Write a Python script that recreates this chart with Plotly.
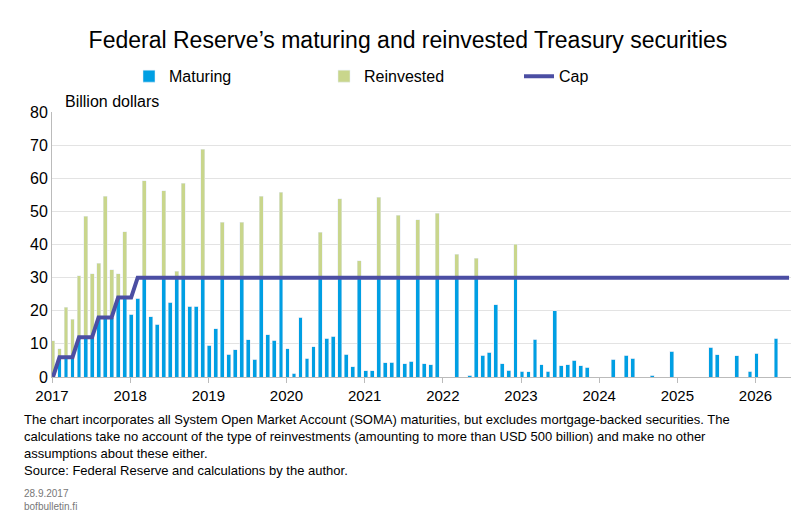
import plotly.graph_objects as go

# total monthly SOMA Treasury maturities, billion USD, from Jan 2017
total = [10.9, 8.5, 21, 17.4, 30.5, 48.6, 31.1, 34.4, 54.6, 32.4, 31.1, 43.9,
         18.9, 23.8, 59.2, 18.2, 15.9, 56.2, 22.5, 31.9, 58.5, 21.3, 21.3, 68.8,
         9.6, 14.5, 46.7, 6.9, 8.3, 46.7, 11.2, 5.4, 54.6, 12.7, 11.1, 55.7,
         8.6, 1.1, 18, 5.6, 9.1, 43.7, 11.7, 12.3, 53.8, 6.8, 3.1, 35.1,
         1.9, 1.9, 54.2, 4.3, 4.5, 48.8, 4.0, 4.7, 47.5, 4.0, 3.7, 49.4,
         0, 0, 37, 0, 0.5, 35.9, 6.6, 7.4, 21.8, 4.0, 2.0, 40.1,
         1.7, 1.6, 11.4, 3.7, 1.7, 20, 3.4, 3.7, 5.1, 3.4, 2.9, 0,
         0, 0, 5.4, 0, 6.6, 5.7, 0, 0, 0.6, 0, 0, 7.8,
         0, 0, 0, 0, 0, 9.0, 6.7, 0, 0, 6.4, 0, 1.8,
         7.1, 0, 0, 11.7]
cap = [0, 6, 6, 6, 12, 12, 12, 18, 18, 18, 24, 24, 24] + [30] * 101
years = [str(y) for y in range(2017, 2027)]

x = list(range(len(total)))
maturing = [min(t, c) for t, c in zip(total, cap)]
reinvested = [t - m for t, m in zip(total, maturing)]

fig = go.Figure()
fig.add_trace(go.Bar(x=x, y=maturing, name="Maturing", marker_color="#009fe3", width=0.6))
fig.add_trace(go.Bar(x=x, y=reinvested, name="Reinvested", marker_color="#c9d68c", width=0.6))
fig.add_trace(go.Scatter(x=list(range(len(cap))), y=cap, name="Cap", mode="lines",
                         line=dict(color="#4b4ea3", width=4)))

fig.update_layout(
    barmode="stack", width=800, height=522, plot_bgcolor="white", paper_bgcolor="white",
    font=dict(family="Arial, Liberation Sans", size=15, color="black"),
    margin=dict(l=44, r=17, t=104, b=153),
    title=dict(text="Federal Reserve’s maturing and reinvested Treasury securities",
               x=0.5, y=0.955, xanchor="center", font=dict(size=23)),
    legend=dict(orientation="h", x=0.5, xanchor="center", y=1.135, yanchor="middle",
                font=dict(size=16), traceorder="normal", entrywidth=150),
    bargap=0.4,
)
fig.update_xaxes(range=[-0.15, 113.3], tickvals=[i * 12 - 0.15 for i in range(10)],
                 ticktext=years, ticks="outside", ticklen=5, tickcolor="#bbb",
                 showline=True, linecolor="#bbb", showgrid=False, tickfont=dict(size=15))
fig.update_yaxes(range=[0, 80], dtick=10, gridcolor="#e3e3e3", showline=True,
                 linecolor="#bbb", zeroline=False, tickfont=dict(size=16))

fig.add_annotation(text="Billion dollars", x=0.015, y=1.0, xref="paper", yref="paper",
                   xanchor="left", yanchor="bottom", showarrow=False, font=dict(size=16))
fig.add_annotation(
    text="The chart incorporates all System Open Market Account (SOMA) maturities, but excludes mortgage-backed securities. The<br>"
         "calculations take no account of the type of reinvestments (amounting to more than USD 500 billion) and make no other<br>"
         "assumptions about these either.<br>Source: Federal Reserve and calculations by the author.",
    x=-0.04, y=-0.125, xref="paper", yref="paper", showarrow=False, align="left",
    xanchor="left", yanchor="top", font=dict(size=13))
fig.add_annotation(text="28.9.2017<br>bofbulletin.fi", x=-0.04, y=-0.41, xref="paper",
                   yref="paper", showarrow=False, align="left", xanchor="left",
                   yanchor="top", font=dict(size=10, color="#777"))

fig.write_html("out.html")
